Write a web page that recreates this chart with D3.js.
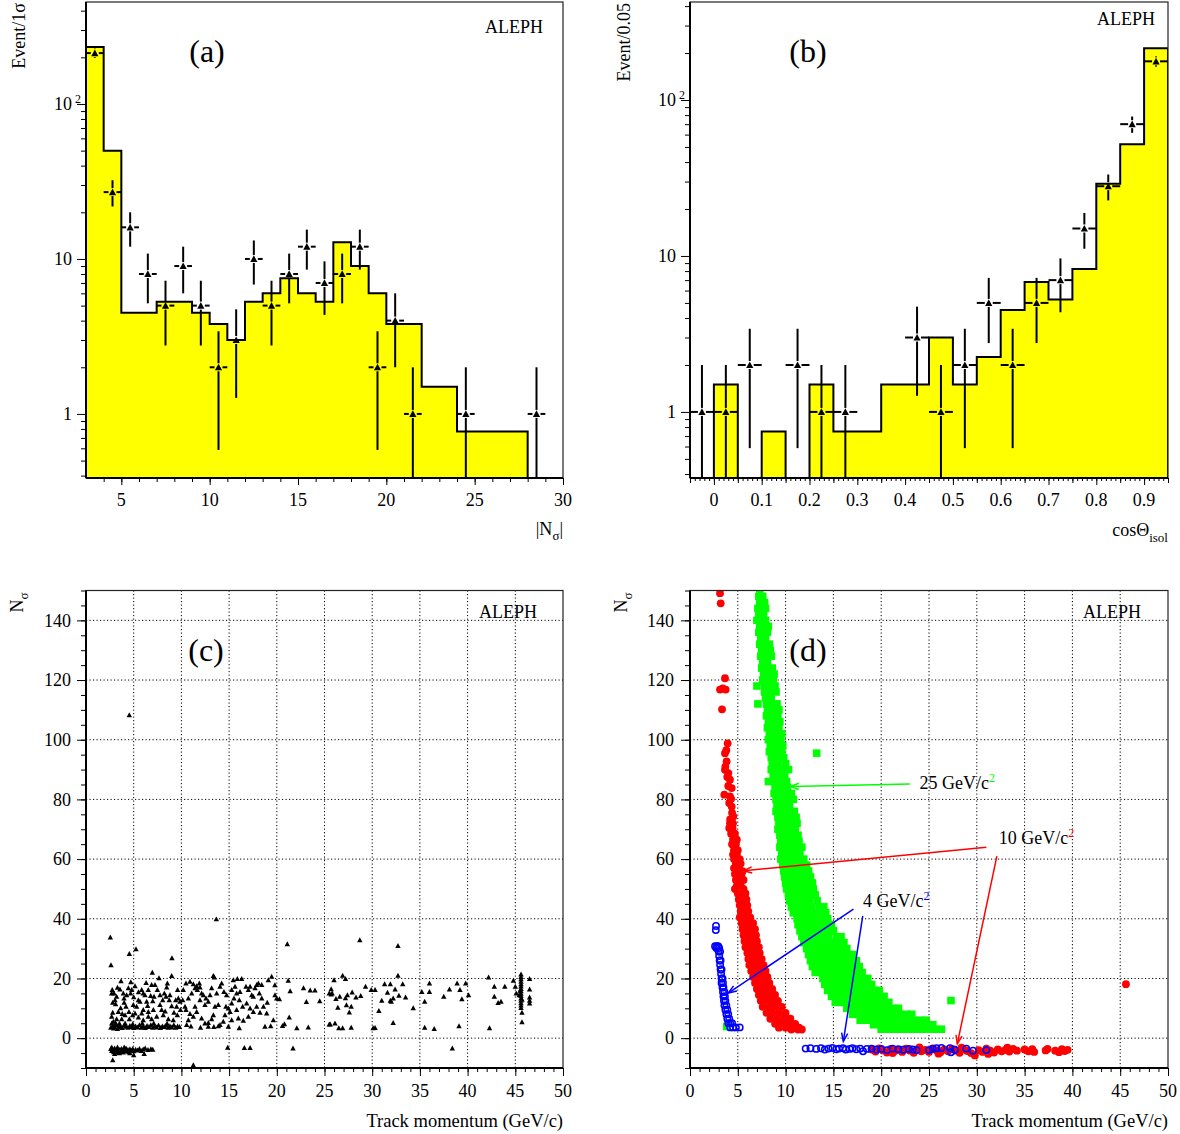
<!DOCTYPE html>
<html><head><meta charset="utf-8">
<script src="https://cdn.jsdelivr.net/npm/d3@7"></script>
<style>body{margin:0;background:#fff}svg{display:block}text{font-family:"Liberation Serif","Times New Roman",serif;fill:#000}</style>
</head><body>
<script>
// ---------------- DATA ----------------
// (a) |N_sigma| histogram (MC, yellow) and data points
const aEdges = [3,4,5,7,9,10,11,12,13,14,15,16,17,18,19,20,22,24,28,30];
const aHist  = [233,50,4.5,5.3,4.5,3.8,3.0,5.3,6.0,7.5,6.0,5.3,12.8,9.0,6.0,3.8,1.5,0.77,0];
const aDataX = [3.5,4.5,5.5,6.5,7.5,8.5,9.5,10.5,11.5,12.5,13.5,14.5,15.5,16.5,17.5,18.5,19.5,20.5,21.5,24.5,28.5];
const aDataN = [213,27,16,8,5,9,5,2,3,10,5,8,12,7,8,12,2,4,1,1,1];
// (b) cos(theta_isol)
const bEdges = [-0.05,0,0.05,0.1,0.15,0.2,0.25,0.3,0.35,0.4,0.45,0.5,0.55,0.6,0.65,0.7,0.75,0.8,0.85,0.9,0.95];
const bHist  = [0,1.5,0,0.75,0,1.5,0.75,0.75,1.5,1.5,3,1.5,2.25,4.5,6.8,5.25,8.25,29,52,215];
const bDataX = [-0.025,0.025,0.075,0.175,0.225,0.275,0.425,0.475,0.525,0.575,0.625,0.675,0.725,0.775,0.825,0.875,0.925];
const bDataN = [1,1,2,2,1,1,3,1,2,5,2,5,7,15,28,70,177];
// tick labels
const logTickVals = [1,10,100];
const aXTicks = [5,10,15,20,25,30];
const bXTicks = [0,0.1,0.2,0.3,0.4,0.5,0.6,0.7,0.8,0.9];
const bXLabels = ['0','0.1','0.2','0.3','0.4','0.5','0.6','0.7','0.8','0.9'];
const pXTicks = [0,5,10,15,20,25,30,35,40,45,50];
const pYTicks = [0,20,40,60,80,100,120,140];

// (c) data: N_sigma vs track momentum
const cNeg = [[2.6,-3.5],[2.7,-4.2],[2.8,-3.8],[2.9,-4.6],[3.0,-3.4],[3.1,-4.0],[3.2,-4.8],[3.3,-3.6],[3.4,-4.3],[3.5,-3.9],[3.6,-4.5],[3.7,-3.5],[3.8,-4.1],[3.9,-4.7],[4.0,-3.7],[4.1,-4.2],[4.2,-3.4],[4.3,-4.4],[4.4,-3.9],[4.5,-4.6],[4.6,-3.6],[4.8,-4.1],[4.9,-3.5],[5.0,-4.3],[5.2,-3.8],[5.4,-4.0],[5.6,-3.5],[5.8,-4.2],[6.0,-3.7],[6.2,-3.4],[6.5,-3.9],[6.8,-3.6],[7.0,-3.8],[3.0,-5.2],[3.5,-5.0],[2.8,-7.3],[5.0,-5.6],[6.1,-5.2],[2.7,-3.0],[3.3,-3.0],[4.0,-3.0],[4.6,-5.0]];
const cSlow = [[2.6,3.6],[2.8,4.2],[3.0,3.8],[3.2,4.4],[3.4,3.7],[3.6,4.1],[3.8,3.5],[4.0,4.3],[4.2,3.9],[4.4,3.6],[4.6,4.2],[4.8,3.8],[5.0,3.5],[5.2,4.0],[5.4,3.7],[5.6,4.4],[5.8,3.6],[6.0,4.0],[6.2,3.5],[6.4,4.2],[6.6,3.8],[6.8,4.4],[7.0,3.6],[7.2,4.1],[7.4,3.7],[7.6,4.3],[7.8,3.5],[8.0,4.0],[8.2,3.8],[8.4,4.3],[8.6,3.6],[8.8,4.1],[9.0,3.7],[9.2,4.4],[9.4,3.6],[9.6,4.0],[9.8,3.8],[2.7,5.0],[3.1,5.1],[3.5,4.9],[2.9,3.3],[3.3,3.2],[4.1,5.0],[4.9,4.8],[5.9,5.0],[7.1,5.0],[8.5,4.9],
[2.69,15.1],[2.94,15.1],[3.67,19.2],[3.56,16.4],[3.91,15.1],[3.04,12.8],[3.1,11.5],[2.8,8.6],[2.69,7.3],[3.63,10.1],[3.98,13.4],[4.44,16.8],[4.68,15.1],[5.14,17.5],[4.96,11.2],[5.31,10.6],[5.49,12.8],[5.14,8.4],[5.66,12.3],[6.0,15.1],[6.53,16.2],[6.88,17.9],[6.78,14.2],[6.36,12.3],[6.46,10.9],[6.0,9.5],[7.23,17.9],[7.48,16.2],[7.93,9.5],[8.21,15.1],[8.46,17.1],[8.53,18.4],[8.8,14.5],[8.73,12.8],[8.98,10.8],[9.22,8.6],[9.5,10.6],[9.68,13.4],[9.85,12.3],[9.57,7.8],[9.15,6.1],[8.63,6.4],[8.1,7.8],[7.41,7.3],[6.88,6.4],[6.53,7.3],[6.0,6.1],[5.49,7.0],[4.54,6.4],[4.09,7.8],[3.74,6.4],[3.21,6.4],[2.87,5.6],[4.5,8.9],[4.26,14.5],[4.79,16.2],[5.84,16.2],[6.18,14.5],[7.13,14.0],[7.76,14.5],[8.04,12.8],[8.39,14.0],[7.76,11.2],[7.06,9.5],[6.53,8.9],[5.84,8.4],[4.89,7.8],[4.19,10.6],[3.39,8.9],[3.21,14.0],[9.4,12.8],[9.6,16.2],[6.95,22.0],[7.65,20.2],[8.98,20.9],[4.0,12.0],[5.0,13.8],[3.3,17.0],[2.8,12.0],[7.0,12.5],[8.3,9.0],[9.9,9.5],[5.5,15.5],[6.3,18.6],[4.7,18.8],[3.8,8.2],[2.75,16.2]];
const cMid = [[10.48,18.4],[10.9,19.0],[11.25,18.2],[11.6,17.5],[11.43,16.8],[11.88,18.4],[11.95,17.1],[12.12,15.1],[12.3,14.5],[12.58,13.4],[12.82,12.3],[13.0,14.5],[12.47,11.2],[11.43,10.6],[11.6,8.9],[11.25,7.3],[10.73,6.1],[10.55,4.5],[10.38,10.6],[10.13,12.8],[10.73,13.4],[11.08,15.1],[10.2,16.2],[12.82,3.9],[12.82,5.2],[13.35,7.8],[13.52,10.6],[13.87,11.2],[13.7,15.1],[14.05,17.3],[14.22,18.4],[14.46,15.6],[14.74,14.5],[14.67,10.6],[14.92,10.0],[15.1,8.9],[14.57,7.8],[14.05,4.5],[13.87,4.1],[14.39,5.6],[14.92,3.9],[15.27,6.1],[15.44,19.5],[15.86,19.9],[16.32,19.9],[15.62,17.3],[15.79,15.1],[16.07,12.8],[16.42,10.6],[15.97,6.7],[16.07,3.4],[16.77,17.3],[17.02,16.2],[17.2,17.3],[17.37,14.5],[17.54,14.0],[17.72,16.8],[17.89,17.9],[18.07,18.4],[18.42,17.9],[18.17,15.1],[18.42,13.4],[18.6,10.6],[18.24,8.6],[17.54,8.9],[17.02,7.3],[16.49,5.9],[18.76,3.9],[19.36,4.1],[19.64,6.1],[19.11,19.5],[19.46,20.7],[17.89,10.6],[16.84,11.7],[16.14,15.6],[15.51,13.4],[15.27,16.2],[13.17,16.8],[13.35,20.9],[13.45,20.4],[11.95,12.8],[11.67,16.2],[10.48,9.5],[10.9,8.2],[12.12,6.7],[12.47,5.0],[13.17,6.4],[15.27,11.7],[15.79,9.5],[17.2,10.0],[18.94,8.4],[19.81,14.5],[19.99,13.4],[20.27,13.1],[19.8,17.8],[21.2,19.3],[20.8,4.8],[20.6,4.2],[21.3,7.0],[22.1,3.4],[23.3,3.7],[22.8,16.8],[23.5,16.1],[24.0,16.1],[23.1,12.2],[24.5,12.5],[25.5,4.7],[25.5,15.1],[11.0,4.0],[12.0,3.6],[13.4,3.8],[19.0,12.0],[21.4,15.8]];
const cHigh = [[26.0,19.5],[26.9,21.0],[27.2,19.9],[25.7,16.5],[25.8,15.1],[25.7,14.7],[26.6,14.0],[26.2,13.2],[27.2,13.5],[27.4,14.5],[27.9,15.4],[28.3,13.7],[28.8,14.2],[26.4,10.3],[27.3,11.1],[27.8,10.6],[27.6,8.7],[29.3,17.3],[29.9,16.2],[30.3,16.2],[31.3,18.2],[31.9,18.2],[32.4,16.4],[31.6,15.3],[32.2,13.4],[31.9,12.6],[32.0,12.3],[32.8,14.3],[33.2,18.2],[33.5,13.7],[31.0,12.6],[30.7,9.2],[32.7,21.0],[32.2,5.2],[30.1,3.4],[30.3,3.5],[27.8,3.6],[25.6,4.7],[26.1,5.0],[26.5,3.4],[26.9,3.4],[34.3,10.1],[35.2,15.6],[35.5,12.3],[36.0,18.4],[36.0,15.6],[35.5,3.6],[36.5,3.2],[37.5,14.0],[38.1,16.4],[38.9,18.4],[39.2,16.2],[39.4,13.1],[39.8,18.4],[40.1,14.5],[39.1,4.1],[42.2,20.4],[42.8,17.3],[42.8,14.0],[43.2,11.9],[43.5,12.3],[43.9,17.3],[42.3,3.4],[44.8,19.3],[45.0,17.3],[45.1,15.1],[45.4,14.5],
[45.6,21.4],[45.6,20.6],[45.6,19.8],[45.6,19.0],[45.6,18.2],[45.6,17.4],[45.6,16.6],[45.6,15.8],[45.6,15.0],[45.6,14.2],[45.6,13.4],[45.6,12.6],[45.6,11.8],[45.6,11.0],[45.6,10.2],[45.7,8.6],[45.7,5.4],[45.5,16.0],[45.7,13.0],
[46.5,19.9],[46.5,16.4],[46.5,13.7],[46.5,12.6],[46.5,11.7]];
const cOut = [[2.55,33.8],[2.62,24.5],[4.54,28.3],[5.24,29.9],[9.01,26.9],[13.66,39.9],[21.1,31.6],[11.25,-9.0],[4.54,108.3],[28.7,32.9],[32.7,31.0],[38.4,-3.4],[21.7,-3.4],[14.85,-3.1],[16.6,-3.2],[17.2,-3.2]];

// (d) signal MC: rows = [N_sigma, momentum values...]
const greenRows = [[150,7.3],[148,7.2,7.6],[146,7.3,7.8],[144,7.1,7.5,7.9],[142,7.2,7.7],[140,7.0,7.4,7.9],[138,7.3,7.8,8.2],[136,7.2,7.6,8.1],[134,7.4,7.9],[132,7.3,7.7,8.3],[130,7.5,8.0,8.4],[128,7.4,7.9,8.5],[126,7.6,8.1],[124,7.5,8.0,8.6],[122,7.7,8.2,8.8],[120,7.6,8.1,8.7],[118,7.0,7.8,8.3,8.9],[116,7.8,8.4,9.0],[114,7.9,8.5],[112,7.1,8.0,8.6,9.1],[110,8.1,8.7,9.3],[108,8.0,8.5,9.2],[106,8.2,8.8,9.4],[104,8.1,8.6,9.3],[102,8.3,8.9,9.6],[100,8.2,8.8,9.5],[98,8.4,9.0,9.7],[96,8.3,8.9,9.6],[95.5,13.25],[94,8.5,9.1,9.8],[92,8.6,9.2,10.0],[90,8.5,9.1,9.7,10.3],[88,8.7,9.3,9.9],[86,8.2,8.8,9.4,10.1],[84,8.9,9.5,10.2],[82,8.8,9.4,10.0,10.6],[80,9.0,9.6,10.3,10.8],[78,9.1,9.7,10.4],[76,9.0,9.6,10.2,10.9],[74,9.2,9.8,10.5,11.1],[72,9.3,9.9,10.6,11.2],[70,9.2,9.8,10.4,11.0],[68,9.4,10.0,10.7,11.3],[66,9.5,10.1,10.8,11.4],[64,9.4,10.0,10.6,11.2,11.7],[62,9.6,10.2,10.9,11.5],[60,9.5,10.1,10.8,11.4,11.9],[58,9.7,10.3,11.0,11.7,12.2],[56,9.8,10.4,11.1,11.8,12.4],[54,9.9,10.5,11.2,11.9,12.6],[52,10.0,10.7,11.4,12.1,12.8],[50,10.1,10.8,11.5,12.2,12.9],[48,10.3,11.0,11.7,12.4,13.1],[46,10.4,11.1,11.8,12.5,13.3],[44,10.6,11.3,12.0,12.7,13.5,14.0],[42,10.8,11.5,12.2,12.9,13.6,14.2],[40,11.2,11.9,12.6,13.3,14.0,14.4],[38,11.3,12.0,12.7,13.4,14.1,14.8],[36,11.5,12.2,12.9,13.6,14.3,15.0],[34,11.7,12.4,13.1,13.8,14.5,15.3,15.8],[32,11.9,12.6,13.3,14.0,14.7,15.4,16.1],[30,12.2,12.9,13.6,14.3,15.0,15.7,16.4],[28,12.4,13.1,13.8,14.5,15.2,15.9,16.6,17.0],[26,12.6,13.3,14.0,14.7,15.4,16.1,16.8,17.4],[24,12.8,13.5,14.2,14.9,15.6,16.3,17.0,17.7],[22,13.1,13.8,14.5,15.2,15.9,16.6,17.3,18.0],[20,13.9,14.6,15.3,16.0,16.7,17.4,18.1,18.6],[18,14.1,14.8,15.5,16.2,16.9,17.6,18.3,19.0],[16,14.4,15.1,15.8,16.5,17.2,17.9,18.6,19.3,19.8],[14,14.8,15.5,16.2,16.9,17.6,18.3,19.0,19.7,20.3],[12.6,27.3],[12,15.2,15.9,16.6,17.3,18.0,18.7,19.4,20.1,20.8],[10,16.4,17.1,17.8,18.5,19.2,19.9,20.6,21.3,21.8],[8,17.0,17.7,18.4,19.1,19.8,20.5,21.2,21.9,22.6,23.2],[6,17.8,18.5,19.2,19.9,20.6,21.3,22.0,22.7,23.4,24.1,24.7],[4.5,19.2,19.9,20.6,21.3,22.0,22.7,23.4,24.1,24.8,25.4],[3,20.0,20.7,21.4,22.1,22.8,23.5,24.2,24.9,25.6,26.3],[3.9,3.84]];
const redRows = [[149.1,3.14],[145.7,3.21],[120.6,3.66],[117.2,3.42],[116.8,3.14,3.73],[110.2,3.35],[98.8,3.94],[96.5,3.8],[95.5,3.66],[92.7,3.83],[91,3.7],[89.9,3.66],[88.8,4.01],[87.5,3.9],[86.6,4.18],[84.5,4.0],[83.8,4.36],[81.6,3.59],[81,4.18],[80.2,4.3],[78.8,4.1],[77.6,4.36],[75.5,4.4],[74.3,4.53],[73.3,4.2],[72,4.18,4.5],[70.4,4.46,4.1],[68.5,4.3,4.7],[66.5,4.5,4.9],[65,4.4,4.8],[63,4.6,5.0],[61.5,4.5,4.9],[60,4.6,5.2],[58.5,4.8,5.3],[57,4.6,5.1],[56,5.5],[55,4.7,5.0,5.4],[53,4.8,5.2,5.6],[51,4.9,5.3],[50,4.7,5.6],[48.5,5.0,5.4,5.8],[46.5,5.1,5.5,5.9],[44.5,5.2,5.6,6.0],[42.5,5.3,5.7,6.1],[40.5,5.2,5.5,5.9,6.3],[38.5,5.4,5.8,6.2,6.6],[36.5,5.5,5.9,6.3,6.8],[34.5,5.6,6.0,6.4,6.9],[32.5,5.7,6.1,6.5,7.0],[30.5,5.8,6.2,6.7,7.2],[28.5,6.0,6.4,6.8,7.3],[26.5,6.1,6.5,7.0,7.5],[24.5,6.2,6.7,7.2,7.7],[22.5,6.4,6.9,7.4,7.9],[20.5,6.6,7.1,7.6,8.1],[18.5,6.8,7.3,7.8,8.3],[16.5,7.0,7.5,8.0,8.6],[14.5,7.2,7.7,8.3,8.9],[12.5,7.4,8.0,8.6,9.2],[10.5,7.6,8.3,8.9,9.6],[8.5,8.0,8.6,9.3,10.0],[6.5,8.4,9.1,9.8,10.5],[4.8,8.9,9.6,10.3,11.0],[3.5,9.3,10.0,10.8,11.4],[2.9,10.6,11.3,11.7],[18.1,45.6]];
const redLow = [[19.0,-3.8],[19.4,-4.5],[19.8,-3.4],[20.2,-4.1],[20.6,-4.8],[21.0,-3.6],[21.4,-4.3],[21.8,-3.9],[22.2,-4.6],[22.6,-3.5],[23.0,-4.2],[23.4,-4.9],[23.8,-3.7],[24.2,-4.4],[24.6,-3.9],[25.0,-4.6],[25.4,-3.4],[25.8,-4.1],[26.2,-4.7],[26.6,-3.8],[27.0,-4.4],[27.4,-3.6],[27.8,-4.2],[28.2,-4.9],[28.6,-3.7],[29.0,-4.3],[29.4,-5.0],[29.8,-5.8],[30.2,-4.0],[30.6,-4.6],[31.0,-3.5],[31.4,-4.2],[31.8,-4.8],[32.2,-3.8],[32.6,-4.4],[33.0,-3.9],[33.4,-4.5],[33.8,-3.6],[34.2,-4.2],[35.0,-3.8],[35.4,-4.4],[35.8,-3.7],[36.0,-4.6],[37.2,-4.1],[37.4,-3.6],[38.2,-4.2],[38.6,-4.7],[38.9,-3.7],[39.2,-4.3],[39.5,-3.9],[28.4,-3.2],[24.0,-3.1],[21.2,-5.0],[26.0,-5.2],[31.2,-5.3],[33.2,-3.2]];
const blueRows = [[37.6,2.72],[36.2,2.70],[30.8,2.62,2.80,2.95],[30.2,2.75,3.05],[29,3.0,3.15],[27.5,3.05],[26,3.1,3.2],[24.5,3.15],[23,3.2,3.3],[21.5,3.25],[20,3.3,3.4],[18.5,3.3,3.45],[17,3.4,3.5],[15.5,3.45,3.6],[14,3.5,3.65],[12.5,3.55,3.7],[11,3.6,3.8],[9.5,3.7,3.9],[8,3.8,4.0],[6.5,3.9,4.1],[5,4.0,4.2,4.4],[3.6,4.2,4.5,4.8,5.2]];
const blueLow = [[12.1,-3.5],[12.6,-3.4],[13.2,-3.6],[13.7,-3.4],[14.1,-3.8],[14.5,-3.5],[14.9,-3.3],[15.3,-3.7],[15.6,-3.5],[16.0,-3.4],[16.3,-3.8],[16.7,-3.6],[17.0,-3.4],[17.4,-3.7],[17.8,-3.5],[18.1,-4.4],[18.5,-3.6],[19.0,-3.5],[19.5,-3.8],[20.0,-3.6],[20.6,-4.0],[21.2,-3.5],[21.8,-3.7],[22.3,-3.9],[22.9,-3.6],[23.3,-3.8],[23.7,-4.0],[25.0,-4.0],[25.4,-3.6],[25.8,-3.4],[26.3,-3.3],[27.2,-3.4],[27.3,-4.7],[27.7,-3.9],[28.9,-3.5],[29.6,-4.2],[31.0,-4.0]];
// annotations (data coordinates)
const annLabels = ['25 GeV/c','10 GeV/c','4 GeV/c'];
const annText = [[24.0,83.6],[32.3,65.0],[18.1,43.8]];
const annArrows = [[[23.0,85.2,10.5,84.3]],[[31.0,64.0,5.6,56.1],[32.1,61.0,27.96,-1.9]],[[17.1,43.2,4.0,15.1],[18.07,41.0,16.04,-1.1]]];

// ---------------- LAYOUT ----------------
const W=1180,H=1134;
const COL={green:'#00ff00',red:'#ff0000',blue:'#0000ff',yellow:'#ffff00'};
const annCol=[COL.green,COL.red,COL.blue];
const svg=d3.select('body').append('svg').attr('width',W).attr('height',H);
svg.append('rect').attr('width',W).attr('height',H).attr('fill','#fff');
const PA={x0:86,x1:563,y0:2,y1:478}, PB={x0:690,x1:1168,y0:2,y1:478};
const PC={x0:86,x1:563,y0:590.5,y1:1068}, PD={x0:690,x1:1168,y0:590.5,y1:1068};

const xA=d3.scaleLinear().domain([3,30]).range([PA.x0,PA.x1]);
const yA=d3.scaleLog().domain([0.386,455]).range([PA.y1,PA.y0]);
const xB=d3.scaleLinear().domain([-0.05,0.95]).range([PB.x0,PB.x1]);
const yB=d3.scaleLog().domain([0.377,425]).range([PB.y1,PB.y0]);
const xC=d3.scaleLinear().domain([0,50]).range([PC.x0,PC.x1]);
const yC=d3.scaleLinear().domain([-10,150]).range([PC.y1,PC.y0]);
const xD=d3.scaleLinear().domain([0,50]).range([PD.x0,PD.x1]);
const yD=d3.scaleLinear().domain([-10,150]).range([PD.y1,PD.y0]);

function clip(id,P){svg.append('clipPath').attr('id',id).append('rect').attr('x',P.x0).attr('y',P.y0).attr('width',P.x1-P.x0).attr('height',P.y1-P.y0);}
clip('cpA',PA);clip('cpB',PB);clip('cpC',PC);clip('cpD',PD);

function ticks(P,axisGen,transform,size,vals){
  const g=svg.append('g').attr('transform',transform).call(axisGen.tickValues(vals).tickSize(size).tickSizeOuter(0).tickFormat(''));
  g.select('.domain').remove(); g.selectAll('text').remove();
  g.selectAll('line').attr('stroke','#000').attr('stroke-width',1);
}
function frame(P){
  svg.append('rect').attr('x',P.x0).attr('y',P.y0).attr('width',P.x1-P.x0).attr('height',P.y1-P.y0).attr('fill','none').attr('stroke','#222').attr('stroke-width',1.2);
  svg.append('line').attr('x1',P.x0).attr('x2',P.x0).attr('y1',P.y0).attr('y2',P.y1).attr('stroke','#000').attr('stroke-width',2);
  svg.append('line').attr('x1',P.x0).attr('x2',P.x1).attr('y1',P.y1).attr('y2',P.y1).attr('stroke','#000').attr('stroke-width',2);
}
function histPath(edges,vals,x,y,yb){
  let p=`M${x(edges[0])},${yb}`;
  vals.forEach((v,i)=>{const yy=v>0?y(v):yb;p+=`L${x(edges[i])},${yy}L${x(edges[i+1])},${yy}`;});
  return p+`L${x(edges[edges.length-1])},${yb}`;
}
function tri(g,cx,cy,s){g.append('path').attr('d',`M${cx-s},${cy+s*0.85}L${cx+s},${cy+s*0.85}L${cx},${cy-s}Z`).attr('fill','#000');}
function errPts(P,xs,ns,hw,x,y){
  const g=svg.append('g').attr('clip-path',`url(#${P===PA?'cpA':'cpB'})`);
  xs.forEach((xv,i)=>{
    const n=ns[i],e=Math.sqrt(n),cx=x(xv),cy=y(n);
    const hi=y(n+e), lo=(n-e)>y.domain()[0]?y(n-e):P.y1, gp=4;
    const L=(a,b,c,d)=>g.append('line').attr('x1',a).attr('y1',b).attr('x2',c).attr('y2',d).attr('stroke','#000').attr('stroke-width',2);
    L(cx,hi,cx,cy-gp);L(cx,cy+gp,cx,lo);
    L(x(xv-hw),cy,cx-gp,cy);L(cx+gp,cy,x(xv+hw),cy);
    tri(g,cx,cy,3.6);
  });
}
function txt(x,y,s,opt={}){
  const t=svg.append('text').attr('x',x).attr('y',y).attr('font-size',opt.size||18).attr('text-anchor',opt.anchor||'middle').text(s);
  if(opt.dy)t.attr('dy',opt.dy); if(opt.fill)t.attr('fill',opt.fill); return t;
}
function logAxis(P,y,xr){
  ticks(P,d3.axisLeft(y),`translate(${P.x0},0)`,9,logTickVals);
  const minors=[];[0.1,1,10,100].forEach(d=>[2,3,4,5,6,7,8,9].forEach(k=>{const v=d*k;if(v>y.domain()[0]&&v<y.domain()[1])minors.push(v);}));
  ticks(P,d3.axisLeft(y),`translate(${P.x0},0)`,5,minors);
  txt(xr,y(1),'1',{anchor:'end',dy:'0.35em'});
  txt(xr,y(10),'10',{anchor:'end',dy:'0.35em'});
  const t=txt(xr-18,y(100),'',{anchor:'start',dy:'0.35em'});
  t.append('tspan').text('10'); t.append('tspan').attr('dx',3).attr('dy',-7).attr('font-size',12).text('2');
}

// ---------------- PANEL (a) ----------------
svg.append('path').attr('d',histPath(aEdges,aHist,xA,yA,PA.y1)).attr('fill',COL.yellow).attr('stroke','#000').attr('stroke-width',2).attr('clip-path','url(#cpA)');
errPts(PA,aDataX,aDataN,0.5,xA,yA);
frame(PA);
ticks(PA,d3.axisBottom(xA),`translate(0,${PA.y1})`,7,aXTicks);
ticks(PA,d3.axisBottom(xA),`translate(0,${PA.y1})`,4,d3.range(4,30,1));
aXTicks.forEach(v=>txt(xA(v),506,String(v)));
logAxis(PA,yA,72);
txt(0,0,'Event/1σ',{anchor:'end'}).attr('transform','translate(25,3) rotate(-90)');
{const t=txt(563,535,'|N',{anchor:'end'});t.append('tspan').attr('dy',5).attr('font-size',13).text('σ');t.append('tspan').attr('dy',-5).text('|');}
txt(514,33,'ALEPH');
txt(207,62,'(a)',{size:32});

// ---------------- PANEL (b) ----------------
svg.append('path').attr('d',histPath(bEdges,bHist,xB,yB,PB.y1)).attr('fill',COL.yellow).attr('stroke','#000').attr('stroke-width',2).attr('clip-path','url(#cpB)');
errPts(PB,bDataX,bDataN,0.025,xB,yB);
frame(PB);
ticks(PB,d3.axisBottom(xB),`translate(0,${PB.y1})`,7,bXTicks);
ticks(PB,d3.axisBottom(xB),`translate(0,${PB.y1})`,5,[-0.05,0.05,0.15,0.25,0.35,0.45,0.55,0.65,0.75,0.85,0.95]);
ticks(PB,d3.axisBottom(xB),`translate(0,${PB.y1})`,3,d3.range(-4,95,1).map(i=>i/100));
bXTicks.forEach((v,i)=>txt(xB(v),506,bXLabels[i]));
logAxis(PB,yB,676);
txt(0,0,'Event/0.05',{anchor:'end'}).attr('transform','translate(630,3) rotate(-90)');
{const t=txt(1168,536,'cosΘ',{anchor:'end'});t.append('tspan').attr('dy',6).attr('font-size',13).text('isol');}
txt(1126,25,'ALEPH');
txt(808,62,'(b)',{size:32});

// ---------------- PANELS (c),(d) common ----------------
function scatterGrid(P,x,y){
  const g=svg.append('g');
  pXTicks.slice(1,-1).forEach(v=>g.append('line').attr('x1',x(v)).attr('x2',x(v)).attr('y1',P.y0).attr('y2',P.y1));
  pYTicks.forEach(v=>g.append('line').attr('x1',P.x0).attr('x2',P.x1).attr('y1',y(v)).attr('y2',y(v)));
  g.selectAll('line').attr('stroke','#000').attr('stroke-width',1).attr('stroke-dasharray','1.2,2.3');
}
function scatterAxes(P,x,y,ylabX){
  frame(P);
  ticks(P,d3.axisBottom(x),`translate(0,${P.y1})`,8,pXTicks);
  ticks(P,d3.axisBottom(x),`translate(0,${P.y1})`,4,d3.range(1,50,1));
  ticks(P,d3.axisLeft(y),`translate(${P.x0},0)`,9,pYTicks);
  ticks(P,d3.axisLeft(y),`translate(${P.x0},0)`,5,d3.range(-10,151,5));
  pXTicks.forEach(v=>txt(x(v),1097,String(v)));
  pYTicks.forEach(v=>txt(ylabX,y(v),String(v),{anchor:'end',dy:'0.35em'}));
  txt(P.x1,1127,'Track momentum (GeV/c)',{anchor:'end',size:18.5});
  const t=txt(0,0,'N',{anchor:'end'}).attr('transform',`translate(${P.x0-63},${P.y0+2}) rotate(-90)`);
  t.append('tspan').attr('dy',5).attr('font-size',13).text('σ');
}

// (c)
scatterGrid(PC,xC,yC);
{const g=svg.append('g').attr('clip-path','url(#cpC)');
 [cNeg,cSlow,cMid,cHigh,cOut].forEach(arr=>arr.forEach(d=>tri(g,xC(d[0]),yC(d[1]),2.7)));}
scatterAxes(PC,xC,yC,71);
txt(508,618,'ALEPH');
txt(206,661,'(c)',{size:32});

// (d)
scatterGrid(PD,xD,yD);
const rowsToPts=rows=>rows.flatMap(r=>r.slice(1).map(v=>[v,r[0]]));
{const g=svg.append('g').attr('clip-path','url(#cpD)');
 rowsToPts(greenRows).forEach(d=>g.append('rect').attr('x',xD(d[0])-3.8).attr('y',yD(d[1])-3.8).attr('width',7.6).attr('height',7.6).attr('fill',COL.green));
 rowsToPts(redRows).concat(redLow).forEach(d=>g.append('circle').attr('cx',xD(d[0])).attr('cy',yD(d[1])).attr('r',3.9).attr('fill',COL.red));
 rowsToPts(blueRows).concat(blueLow).forEach(d=>g.append('circle').attr('cx',xD(d[0])).attr('cy',yD(d[1])).attr('r',3.2).attr('fill','none').attr('stroke',COL.blue).attr('stroke-width',1.5));
}
annLabels.forEach((lab,i)=>{
  const c=annCol[i];
  annArrows[i].forEach(a=>{
    const x1=xD(a[0]),y1=yD(a[1]),x2=xD(a[2]),y2=yD(a[3]);
    svg.append('line').attr('x1',x1).attr('y1',y1).attr('x2',x2).attr('y2',y2).attr('stroke',c).attr('stroke-width',1.5);
    const ang=Math.atan2(y1-y2,x1-x2),L=9,sp=0.35;
    svg.append('path').attr('d',`M${x2+L*Math.cos(ang+sp)},${y2+L*Math.sin(ang+sp)}L${x2},${y2}L${x2+L*Math.cos(ang-sp)},${y2+L*Math.sin(ang-sp)}`).attr('fill','none').attr('stroke',c).attr('stroke-width',1.5);
  });
  const t=txt(xD(annText[i][0]),yD(annText[i][1]),lab,{anchor:'start',fill:c});
  t.append('tspan').attr('dy',-7).attr('font-size',12).attr('fill',c).text('2');
});
scatterAxes(PD,xD,yD,674);
txt(1112,618,'ALEPH');
txt(808,661,'(d)',{size:32});
</script>
</body></html>
